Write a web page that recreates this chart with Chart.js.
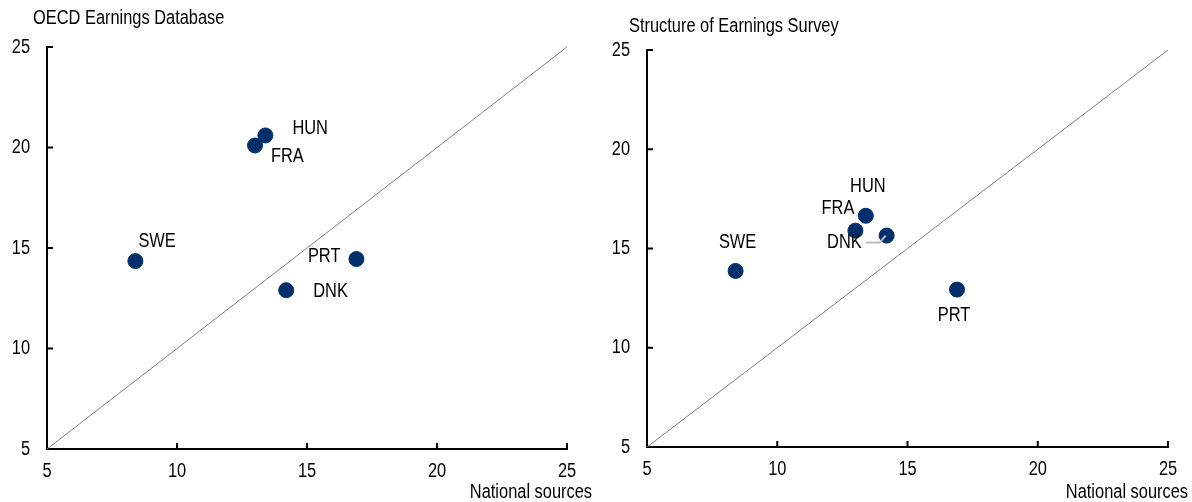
<!DOCTYPE html>
<html>
<head>
<meta charset="utf-8">
<script src="https://cdn.jsdelivr.net/npm/chart.js@4.4.0/dist/chart.umd.min.js"></script>
<style>
  body { margin: 0; background: #fff; }
  .panel { position: absolute; top: 0; width: 596px; height: 502px; }
</style>
</head>
<body>
<div class="panel" style="left:0"><canvas id="left"></canvas></div>
<div class="panel" style="left:596px"><canvas id="right"></canvas></div>
<script>
// country codes
const countries = ["SWE", "FRA", "HUN", "DNK", "PRT"];
// national sources (x) - same for both panels
const nationalSources = [8.4, 13.0, 13.4, 14.2, 16.9];
// y values
const oecdEarnings = [14.35, 20.1, 20.6, 12.9, 14.45];
const structureSurvey = [13.87, 15.9, 16.65, 15.65, 12.93];
const axisTicks = [5, 10, 15, 20, 25];

const FONT = "20px 'Liberation Sans', Arial, sans-serif";
const NARROW = 0.82; // squeeze to look like Arial Narrow
const NAVY = "#002F6C";

// label placement per panel (pixel offsets from the point)
const leftLabels = {
  SWE: { dx: 3, dy: -20, align: "left" },
  FRA: { dx: 16, dy: 11, align: "left" },
  HUN: { dx: 27, dy: -7, align: "left" },
  DNK: { dx: 27, dy: 1, align: "left" },
  PRT: { dx: -16, dy: -3, align: "right" }
};
const rightLabels = {
  SWE: { dx: 2, dy: -28, align: "center" },
  FRA: { dx: -1, dy: -22, align: "right" },
  HUN: { dx: 2, dy: -29, align: "center" },
  DNK: { dx: -25, dy: 7, align: "right", leader: true },
  PRT: { dx: -3, dy: 26, align: "center" }
};

function text(c, str, x, y, align) {
  c.save();
  c.translate(x, y);
  c.scale(NARROW, 1);
  c.textAlign = align;
  c.textBaseline = "middle";
  c.fillText(str, 0, 0);
  c.restore();
}

const extras = {
  id: "extras",
  afterDraw(chart, args, opts) {
    const c = chart.ctx, xs = chart.scales.x, ys = chart.scales.y, area = chart.chartArea;
    c.save();
    c.font = FONT;
    c.fillStyle = "#000";
    // inward tick marks and tick labels
    c.strokeStyle = "#000"; c.lineWidth = 2;
    axisTicks.forEach(v => {
      const px = xs.getPixelForValue(v);
      const py = ys.getPixelForValue(v);
      if (v !== 5) {
        c.beginPath(); c.moveTo(px, area.bottom); c.lineTo(px, area.bottom - 6); c.stroke();
        c.beginPath(); c.moveTo(area.left, py); c.lineTo(area.left + 6, py); c.stroke();
      }
      text(c, String(v), px, area.bottom + 22, "center");
      text(c, String(v), area.left - 17, py, "right");
    });
    // point labels
    const meta = chart.getDatasetMeta(1);
    countries.forEach((name, i) => {
      const el = meta.data[i];
      const lab = opts.labels[name];
      const tx = el.x + lab.dx, ty = el.y + lab.dy;
      text(c, name, tx, ty, lab.align);
      if (lab.leader) {
        c.strokeStyle = "#BFBFBF"; c.lineWidth = 2;
        c.beginPath();
        c.moveTo(tx + 4, ty); c.lineTo(el.x - 7, ty); c.lineTo(el.x - 1, el.y);
        c.stroke();
      }
    });
    // panel title and axis name
    text(c, opts.title, 33, opts.titleY, "left");
    text(c, "National sources", 592, 492, "right");
    c.restore();
  }
};

function makeChart(id, yValues, title, titleY, labels, pad) {
  const points = nationalSources.map((x, i) => ({ x: x, y: yValues[i] }));
  return new Chart(document.getElementById(id), {
    type: "scatter",
    data: {
      datasets: [
        {
          data: [{ x: 5, y: 5 }, { x: 25, y: 25 }],
          showLine: true,
          borderColor: "#7F7F7F",
          borderWidth: 1,
          pointRadius: 0
        },
        {
          data: points,
          backgroundColor: NAVY,
          borderColor: NAVY,
          pointRadius: 7.5,
          pointHoverRadius: 7.5
        }
      ]
    },
    options: {
      responsive: true,
      maintainAspectRatio: false,
      animation: false,
      events: [],
      layout: { padding: { top: pad.top, right: pad.right, left: 0, bottom: 0 } },
      plugins: {
        legend: { display: false },
        tooltip: { enabled: false },
        extras: { title: title, titleY: titleY, labels: labels }
      },
      scales: {
        x: {
          type: "linear", min: 5, max: 25,
          afterFit: s => { s.height = pad.xh; },
          afterBuildTicks: s => { s.ticks = axisTicks.map(v => ({ value: v })); },
          grid: { display: false, drawTicks: false },
          border: { display: true, color: "#000", width: 2 },
          ticks: { display: false }
        },
        y: {
          type: "linear", min: 5, max: 25,
          afterFit: s => { s.width = pad.yw; },
          afterBuildTicks: s => { s.ticks = axisTicks.map(v => ({ value: v })); },
          grid: { display: false, drawTicks: false },
          border: { display: true, color: "#000", width: 2 },
          ticks: { display: false }
        }
      }
    },
    plugins: [extras]
  });
}

makeChart("left", oecdEarnings, "OECD Earnings Database", 18, leftLabels,
  { top: 47, right: 29, xh: 53, yw: 47 });
makeChart("right", structureSurvey, "Structure of Earnings Survey", 26, rightLabels,
  { top: 50, right: 24, xh: 55, yw: 51 });
</script>
</body>
</html>
